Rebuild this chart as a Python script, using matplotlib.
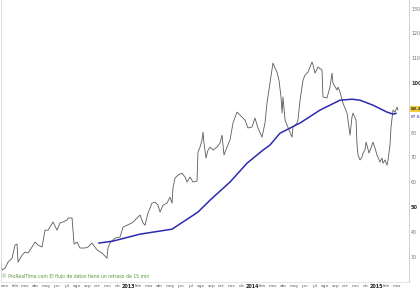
import matplotlib
matplotlib.use("Agg")
import matplotlib.pyplot as plt

# ── price (months since Jan 2012, close) ─────────────────────────────────────
price_t = [-0.10, 0.00, 0.29, 0.58, 0.97, 1.26, 1.45, 1.55, 1.94, 2.23, 2.52, 2.90,
           3.19, 3.48, 3.87, 4.16, 4.45, 4.94, 5.32, 5.61, 5.91, 6.29, 6.39, 6.78,
           6.97, 7.26, 7.55, 8.03, 8.33, 8.71, 9.20, 9.68, 10.16, 10.26, 10.45, 10.94,
           11.42, 11.71, 12.10, 12.58, 12.88, 13.36, 13.65, 13.84, 14.13, 14.52, 14.81,
           15.10, 15.30, 15.59, 15.97, 16.26, 16.46, 16.55, 16.75, 17.04, 17.42, 17.72,
           17.91, 18.20, 18.49, 18.88, 18.97, 19.17, 19.36, 19.46, 19.55, 19.75, 19.94,
           20.14, 20.43, 20.81, 21.10, 21.30, 21.39, 21.49, 21.78, 22.07, 22.36, 22.75,
           23.04, 23.52, 23.81, 24.20, 24.49, 24.78, 25.17, 25.46, 25.65, 25.94, 26.23,
           26.43, 26.62, 26.81, 27.01, 27.11, 27.20, 27.40, 27.59, 27.88, 28.07, 28.17,
           28.56, 28.65, 28.85, 29.14, 29.33, 29.62, 30.01, 30.11, 30.30, 30.59, 30.98,
           31.07, 31.46, 31.75, 31.95, 32.04, 32.43, 32.53, 32.72, 33.01, 33.40, 33.69,
           33.88, 33.98, 34.27, 34.37, 34.46, 34.66, 34.85, 34.95, 35.14, 35.24, 35.33,
           35.53, 35.82, 35.91, 36.11, 36.30, 36.59, 36.79, 36.88, 37.08, 37.27, 37.37,
           37.56, 37.66, 37.85, 38.04, 38.24, 38.33]
price_v = [27.4, 24.6, 25.4, 27.8, 29.4, 34.7, 35.1, 27.8, 30.6, 31.9, 31.5, 33.9,
           35.9, 34.7, 33.9, 40.7, 40.7, 44.0, 40.7, 43.6, 44.0, 44.8, 45.6, 45.6,
           35.1, 35.9, 33.5, 33.5, 33.9, 35.5, 32.7, 31.5, 29.4, 33.5, 35.5, 37.5,
           37.9, 41.9, 42.7, 43.6, 44.8, 46.8, 43.6, 42.7, 47.6, 51.6, 52.0,
           50.8, 48.0, 50.8, 51.6, 54.0, 51.6, 57.7, 61.7, 62.9, 63.7, 62.1,
           60.1, 62.1, 60.1, 60.5, 72.2, 74.2, 77.0, 80.2, 75.8, 69.8, 73.0,
           74.2, 73.0, 74.2, 75.8, 79.0, 75.0, 71.0, 74.2, 77.0, 83.9, 88.3,
           87.1, 85.1, 81.9, 82.3, 85.9, 81.9, 78.2, 83.9, 91.9, 100.0, 108.1,
           106.1, 104.4, 101.2, 94.4, 87.9, 94.4, 85.1, 83.1, 80.2, 78.2, 82.3,
           83.9, 85.1, 93.1, 101.2, 103.2, 104.4, 108.5, 107.3, 104.0, 106.5, 105.2,
           94.4, 94.0, 98.4, 104.0, 100.0, 97.2, 98.4, 96.4, 91.9, 87.9, 79.0,
           86.3, 87.9, 85.1, 75.0, 71.0, 69.0, 70.2, 71.8, 73.0, 76.2, 75.0,
           71.8, 75.0, 76.2, 73.8, 71.0, 68.2, 69.8, 67.7, 69.0, 66.9, 69.0,
           75.0, 82.3, 89.1, 88.3, 90.3, 89.2]

# ── 200-session moving average ───────────────────────────────────────────────
ma_t = [9.39, 10.75, 13.36, 16.46, 18.97, 20.14, 22.07, 23.72, 25.27, 25.94,
        26.91, 28.85, 30.78, 32.72, 33.88, 34.66, 35.91, 37.27, 37.85, 38.14]
ma_v = [35.5, 36.3, 39.1, 41.1, 48.0, 52.8, 60.1, 67.7, 73.0, 75.0,
        79.8, 83.9, 89.1, 93.1, 93.5, 93.1, 91.1, 88.3, 87.5, 87.8]

month_names = ["ene", "feb", "mar", "abr", "may", "jun", "jul", "ago",
               "sep", "oct", "nov", "dic"]
years = ["2012", "2013", "2014", "2015"]
n_months = 39
y_ticks = [30, 40, 50, 60, 70, 80, 90, 100, 110, 120, 130]
bold_y = [50, 100]
last_price_label = "89.20"
last_ma_label = "87.80"
footer = "\u00a9 ProRealTime.com El flujo de datos tiene un retraso de 15 min"

fig = plt.figure(figsize=(4.2, 2.89), dpi=100)
ax = fig.add_axes([1 / 420, 1 - 282 / 289, 408 / 420, 282 / 289])

ax.plot(price_t, price_v, color="#5a5a5a", linewidth=0.6, zorder=2)
ax.plot(ma_t, ma_v, color="#2b2bb0", linewidth=1.1, zorder=3)

ax.set_xlim(-0.10, 39.4)
ax.set_ylim(19.8, 133.5)

# month labels, year in bold at January
xt, xl = [], []
for i in range(n_months):
    xt.append(i + 0.25)
    xl.append(years[i // 12] if i % 12 == 0 and i > 0 else month_names[i % 12])
ax.set_xticks(xt)
ax.set_xticklabels(xl, fontsize=3.2, color="#606060")
for lab, txt in zip(ax.get_xticklabels(), xl):
    if txt in years:
        lab.set_fontweight("bold")
        lab.set_color("#202020")
        lab.set_fontsize(3.5)

ax.yaxis.tick_right()
ax.set_yticks(y_ticks)
ax.set_yticklabels([str(v) for v in y_ticks], fontsize=3.4, color="#707070")
for lab, v in zip(ax.get_yticklabels(), y_ticks):
    if v in bold_y:
        lab.set_fontweight("bold")
        lab.set_color("#303030")
        lab.set_fontsize(3.6)
ax.tick_params(axis="both", length=0)
ax.tick_params(axis="x", pad=1.5)
ax.tick_params(axis="y", pad=1.5)

ax.spines["top"].set_visible(False)
ax.spines["left"].set_color("#d8d8d8")
ax.spines["right"].set_color("#c8c8c8")
ax.spines["bottom"].set_color("#e0e0e0")
for s in ax.spines.values():
    s.set_linewidth(0.6)

# last-value labels on the price scale
ax.annotate(last_price_label, xy=(1.0, price_v[-1]), xycoords=("axes fraction", "data"),
            xytext=(1.5, 0.6), textcoords="offset points", fontsize=3.2,
            color="#303030", va="center", ha="left", fontweight="bold",
            bbox=dict(boxstyle="square,pad=0.15", facecolor="#f2cf3a", edgecolor="none"),
            zorder=5, annotation_clip=False)
ax.annotate(last_ma_label, xy=(1.0, ma_v[-1]), xycoords=("axes fraction", "data"),
            xytext=(1.5, -2.4), textcoords="offset points", fontsize=3.2,
            color="#3030b0", va="center", ha="left",
            bbox=dict(boxstyle="square,pad=0.1", facecolor="white", edgecolor="none"),
            zorder=5, annotation_clip=False)

ax.text(0.003, 0.012, footer, transform=ax.transAxes, fontsize=3.3,
        color="#5a9a3a", va="bottom", ha="left")

fig.savefig("out.png", dpi=100)
